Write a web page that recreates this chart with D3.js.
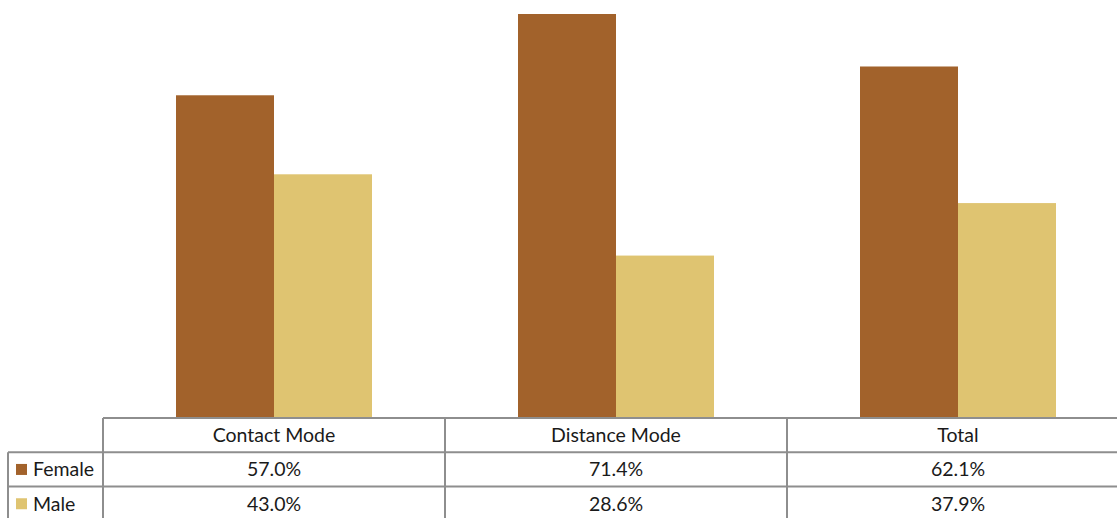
<!DOCTYPE html>
<html>
<head>
<meta charset="utf-8">
<script src="https://cdn.jsdelivr.net/npm/d3@7/dist/d3.min.js"></script>
<style>
  html, body { margin: 0; padding: 0; background: #fff; }
  svg { display: block; }
  text { font-family: Lato, "Open Sans", sans-serif; fill: #1a1a1a; }
</style>
</head>
<body>
<svg id="chart" width="1117" height="518"></svg>
<script>
// Gender split by mode of study (percent)
const categories = ["Contact Mode", "Distance Mode", "Total"];
const seriesNames = ["Female", "Male"];
const female = [57.0, 71.4, 62.1];
const male = [43.0, 28.6, 37.9];
const valueLabels = [["57.0%", "71.4%", "62.1%"], ["43.0%", "28.6%", "37.9%"]];
const colors = ["#A2622B", "#DFC471"];

const series = [female, male];
const svg = d3.select("#chart");

const tableLeft = 103, tableRight = 1129;
const baseline = 417;
const rowTop = 418, rowH = 34.3;
const fontSize = 19.5;

const x = d3.scaleBand().domain(categories).range([tableLeft, tableRight]).padding(0);
const xs = d3.scaleBand().domain(seriesNames).range([0, x.bandwidth()])
  .paddingInner(0).paddingOuter(0.745);
const y = d3.scaleLinear().domain([0, 71.4]).range([baseline, 14]);

// Bars
const groups = svg.append("g").selectAll("g")
  .data(categories).join("g")
  .attr("transform", d => `translate(${x(d)},0)`);

groups.selectAll("rect")
  .data((c, i) => seriesNames.map((s, j) => ({ s, v: series[j][i], j })))
  .join("rect")
  .attr("x", d => xs(d.s))
  .attr("width", xs.bandwidth())
  .attr("y", d => y(d.v))
  .attr("height", d => y(0) - y(d.v))
  .attr("fill", d => colors[d.j]);

// Data table grid
const grid = svg.append("g").attr("stroke", "#8e8e8e").attr("stroke-width", 2).attr("fill", "none");
const hLines = [
  { x1: tableLeft, x2: tableRight, y: rowTop },
  { x1: 8, x2: tableRight, y: rowTop + rowH },
  { x1: 8, x2: tableRight, y: rowTop + 2 * rowH }
];
grid.selectAll("line.h").data(hLines).join("line")
  .attr("x1", d => d.x1).attr("x2", d => d.x2)
  .attr("y1", d => d.y).attr("y2", d => d.y);

const vLines = [{ x: 8, y1: rowTop + rowH }]
  .concat(categories.map(c => ({ x: x(c), y1: rowTop })))
  .concat([{ x: tableRight, y1: rowTop }]);
grid.selectAll("line.v").data(vLines).join("line")
  .attr("x1", d => d.x).attr("x2", d => d.x)
  .attr("y1", d => d.y1).attr("y2", 530);

// Header row: category names
svg.append("g").selectAll("text")
  .data(categories).join("text")
  .attr("x", d => x(d) + x.bandwidth() / 2)
  .attr("y", rowTop + rowH / 2)
  .attr("dy", "0.35em")
  .attr("text-anchor", "middle")
  .attr("font-size", fontSize)
  .text(d => d);

// Legend keys and values
seriesNames.forEach((name, j) => {
  const cy = rowTop + rowH * (j + 1) + rowH / 2;
  svg.append("rect")
    .attr("x", 16).attr("y", cy - 5.5)
    .attr("width", 11).attr("height", 11)
    .attr("fill", colors[j]);
  svg.append("text")
    .attr("x", 33).attr("y", cy).attr("dy", "0.35em")
    .attr("font-size", fontSize)
    .text(name);
  svg.append("g").selectAll("text")
    .data(categories).join("text")
    .attr("x", d => x(d) + x.bandwidth() / 2)
    .attr("y", cy).attr("dy", "0.35em")
    .attr("text-anchor", "middle")
    .attr("font-size", fontSize)
    .text((d, i) => valueLabels[j][i]);
});
</script>
</body>
</html>
